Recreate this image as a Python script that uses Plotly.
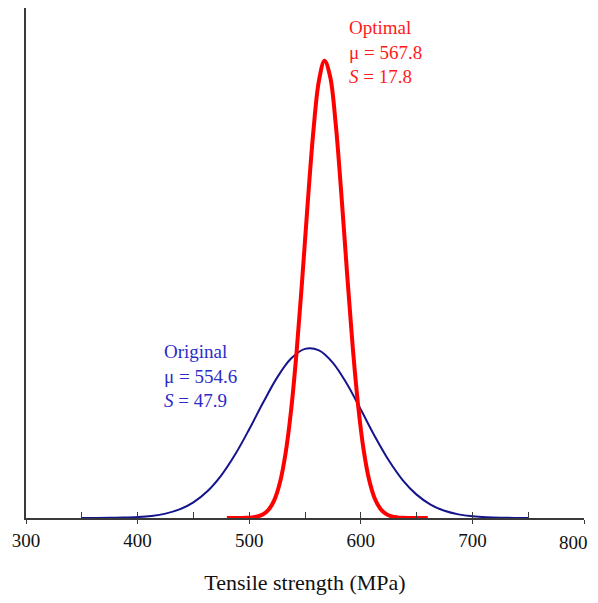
import plotly.graph_objects as go

# Original distribution, density x1000
orig_x = [350, 362.5, 375, 387.5, 400, 412.5, 425, 437.5, 450, 462.5, 475, 487.5, 500, 512.5, 525, 537.5,
          550, 562.5, 575, 587.5, 600, 612.5, 625, 637.5, 650, 662.5, 675, 687.5, 700, 712.5, 725, 737.5, 750]
orig_y = [0.0009, 0.0027, 0.0074, 0.0190, 0.0456, 0.1022, 0.214, 0.4195, 0.768, 1.311, 2.093, 3.122, 4.348, 5.660, 6.882, 7.815,
          8.291, 8.217, 7.607, 6.579, 5.315, 4.011, 2.829, 1.862, 1.146, 0.6588, 0.354, 0.1774, 0.0831, 0.0364, 0.0149, 0.0057, 0.0020]

# Optimal distribution, density x1000
opt_x = [480, 482.5, 487.5, 492.5, 497.5, 502.5, 507.5, 512.5, 517.5, 522.5, 527.5, 532.5, 537.5, 542.5, 547.5,
         552.5, 557.5, 562.5, 567.5, 572.5, 577.5, 582.5, 587.5, 592.5, 597.5, 602.5, 607.5, 612.5, 617.5,
         622.5, 627.5, 632.5, 637.5, 642.5, 647.5, 652.5, 657.5, 660]
opt_y = [0.0001, 0.0002, 0.0009, 0.0029, 0.0092, 0.0268, 0.0721, 0.1797, 0.4134, 0.8792, 1.727, 3.137, 5.263, 8.161, 11.70,
         15.49, 18.96, 21.44, 22.41, 21.64, 19.32, 15.93, 12.15, 8.557, 5.571, 3.352, 1.863, 0.9573, 0.4546,
         0.1995, 0.0808, 0.0303, 0.0105, 0.0034, 0.0010, 0.0003, 0.0001, 0.0]

x_ticks = [300, 400, 500, 600, 700, 800]
x_tick_labels = ["300", "400", "500", "600", "700", "800"]

FONT = "Liberation Serif, Times New Roman, serif"
AX = "#3a3a3a"
TICKFONT = dict(family=FONT, size=19, color="#111111")

fig = go.Figure()
fig.add_trace(go.Scatter(x=orig_x, y=orig_y, mode="lines",
                         line=dict(color="#14148c", width=2, shape="spline", smoothing=1.0),
                         showlegend=False, hoverinfo="skip"))
fig.add_trace(go.Scatter(x=opt_x, y=opt_y, mode="lines",
                         line=dict(color="#ff0000", width=4, shape="spline", smoothing=1.0),
                         showlegend=False, hoverinfo="skip"))
# invisible trace for the overlay axis carrying inside ticks
fig.add_trace(go.Scatter(x=[300, 800], y=[0, 0], xaxis="x2", mode="lines",
                         line=dict(width=0), showlegend=False, hoverinfo="skip"))

fig.add_annotation(x=588.5, y=22.85, xref="x", yref="y", xanchor="left", yanchor="middle",
                   align="left", showarrow=False, borderpad=0,
                   text="Optimal<br>μ = 567.8<br><i>S</i> = 17.8",
                   font=dict(family=FONT, size=19, color="#ff1a1a"))
fig.add_annotation(x=423, y=6.94, xref="x", yref="y", xanchor="left", yanchor="middle",
                   align="left", showarrow=False, borderpad=0,
                   text="Original<br>μ = 554.6<br><i>S</i> = 47.9",
                   font=dict(family=FONT, size=19, color="#2b2bc8"))
# last tick label drawn as an annotation so it stays inside the visible page
fig.add_annotation(x=x_ticks[-1], y=0, xref="x", yref="y", xanchor="right", yanchor="middle",
                   xshift=5, yshift=-24, showarrow=False, borderpad=0,
                   text=x_tick_labels[-1], font=TICKFONT)

fig.update_layout(
    width=590, height=587,
    margin=dict(l=18, r=14, t=0, b=77),
    paper_bgcolor="white", plot_bgcolor="white",
    font=dict(family=FONT, color="#111111"),
    xaxis=dict(range=[300, 800], tickvals=x_ticks, ticktext=x_tick_labels[:-1] + [""],
               ticks="outside", ticklen=4, automargin=False, ticklabeloverflow="allow",
               tickcolor=AX, tickwidth=1.3, showline=True, linecolor=AX, linewidth=1.5,
               showgrid=False, zeroline=False, tickfont=TICKFONT,
               title=dict(text="Tensile strength (MPa)", font=dict(family=FONT, size=22, color="#111111"),
                          standoff=27)),
    xaxis2=dict(range=[300, 800], overlaying="x", anchor="y", side="bottom", dtick=50, tick0=300,
                ticks="inside", ticklen=6, tickcolor=AX, tickwidth=1.3, showticklabels=False,
                showline=False, showgrid=False, zeroline=False, automargin=False),
    yaxis=dict(range=[0, 25], showline=True, linecolor=AX, linewidth=1.5, ticks="", automargin=False,
               showticklabels=False, showgrid=False, zeroline=False),
)

fig.write_html("out.html")
